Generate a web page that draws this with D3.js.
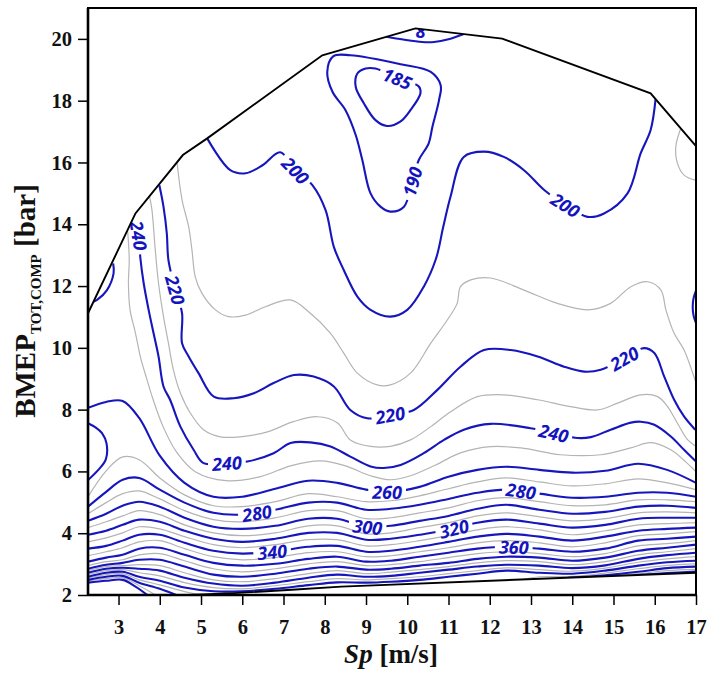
<!DOCTYPE html>
<html lang="en">
<head>
<meta charset="UTF-8">
<title>BMEP contour map</title>
<script src="https://d3js.org/d3.v7.min.js"></script>
<style>
  body { margin: 0; background: #fff; }
  .tick text { font-family: "Liberation Serif", serif; font-weight: bold; font-size: 20.5px; fill: #111; }
  .tick line { stroke: #000; stroke-width: 1.5; }
  .clabel { font-family: "Open Sans", sans-serif; font-weight: bold; font-style: italic; font-size: 18px; fill: #1414be; }
</style>
</head>
<body>
<div id="chart"></div>
<script>
// ---- data (Sp in m/s, BMEP in bar) ----

// columns used for the dense lower band of iso-lines
const bandX = [2.26, 2.7, 3.1, 3.5, 4.0, 4.6, 5.3, 6.0, 6.8, 7.6, 8.3, 9.0, 9.6, 10.3, 11.0, 11.7, 12.4, 13.2, 14.0, 14.8, 15.6, 16.3, 17.0];

const band260 = [8.06, 8.25, 8.28, 7.73, 6.51, 5.63, 5.18, 5.18, 5.44, 5.70, 5.63, 5.41, 5.34, 5.50, 5.83, 6.05, 6.15, 6.05, 5.96, 6.02, 6.25, 6.05, 5.63];
const band270 = [5.18, 6.02, 6.47, 6.38, 5.79, 5.24, 4.89, 4.86, 5.02, 5.28, 5.18, 5.02, 5.05, 5.21, 5.44, 5.66, 5.79, 5.66, 5.53, 5.60, 5.76, 5.63, 5.41];
const band280 = [4.86, 5.34, 5.73, 5.79, 5.41, 4.99, 4.66, 4.60, 4.76, 4.99, 4.99, 4.76, 4.79, 4.92, 5.11, 5.31, 5.41, 5.28, 5.15, 5.18, 5.31, 5.31, 5.18];
const band290 = [4.63, 4.99, 5.28, 5.37, 5.11, 4.73, 4.44, 4.37, 4.50, 4.73, 4.73, 4.47, 4.50, 4.66, 4.82, 5.05, 5.15, 5.02, 4.89, 4.92, 5.08, 5.08, 5.02];
const band300 = [4.40, 4.63, 4.89, 5.02, 4.86, 4.50, 4.21, 4.14, 4.24, 4.47, 4.47, 4.21, 4.24, 4.40, 4.56, 4.79, 4.92, 4.76, 4.63, 4.69, 4.86, 4.89, 4.82];
const band310 = [4.18, 4.37, 4.56, 4.73, 4.60, 4.27, 4.01, 3.92, 4.01, 4.24, 4.24, 3.98, 4.01, 4.18, 4.34, 4.56, 4.66, 4.53, 4.40, 4.47, 4.66, 4.69, 4.66];
const band320 = [3.95, 4.08, 4.27, 4.44, 4.37, 4.08, 3.82, 3.72, 3.82, 4.01, 4.01, 3.79, 3.82, 3.95, 4.11, 4.34, 4.44, 4.31, 4.18, 4.27, 4.47, 4.50, 4.50];
const band330 = [3.72, 3.85, 4.01, 4.21, 4.14, 3.89, 3.63, 3.53, 3.63, 3.79, 3.79, 3.59, 3.63, 3.76, 3.92, 4.11, 4.21, 4.11, 3.95, 4.08, 4.27, 4.31, 4.34];
const band340 = [3.50, 3.59, 3.76, 3.95, 3.95, 3.69, 3.43, 3.34, 3.41, 3.56, 3.59, 3.40, 3.43, 3.56, 3.72, 3.89, 3.98, 3.89, 3.76, 3.89, 4.08, 4.14, 4.18];
const band350 = [3.27, 3.40, 3.53, 3.72, 3.76, 3.50, 3.24, 3.14, 3.21, 3.37, 3.40, 3.24, 3.27, 3.40, 3.53, 3.69, 3.76, 3.69, 3.56, 3.69, 3.92, 3.98, 4.05];
const band360 = [3.08, 3.21, 3.30, 3.50, 3.53, 3.30, 3.04, 2.95, 3.01, 3.17, 3.24, 3.08, 3.11, 3.24, 3.37, 3.50, 3.56, 3.50, 3.40, 3.50, 3.76, 3.82, 3.89];
const band370 = [2.95, 3.08, 3.14, 3.30, 3.34, 3.11, 2.85, 2.75, 2.85, 3.01, 3.08, 2.95, 2.98, 3.08, 3.21, 3.34, 3.40, 3.34, 3.24, 3.34, 3.59, 3.66, 3.76];
const band380 = [2.85, 2.98, 3.04, 3.14, 3.14, 2.92, 2.66, 2.59, 2.69, 2.85, 2.92, 2.82, 2.85, 2.95, 3.04, 3.17, 3.24, 3.21, 3.11, 3.21, 3.43, 3.53, 3.63];
const band390 = [2.79, 2.92, 2.95, 2.98, 2.95, 2.72, 2.49, 2.43, 2.53, 2.69, 2.79, 2.69, 2.74, 2.82, 2.92, 3.04, 3.11, 3.08, 2.98, 3.08, 3.30, 3.40, 3.50];
const band400 = [2.72, 2.85, 2.88, 2.85, 2.79, 2.56, 2.37, 2.30, 2.40, 2.56, 2.66, 2.59, 2.62, 2.72, 2.82, 2.92, 2.98, 2.95, 2.87, 2.96, 3.17, 3.29, 3.37];
const band410 = [2.66, 2.79, 2.82, 2.72, 2.62, 2.40, 2.24, 2.20, 2.30, 2.43, 2.53, 2.49, 2.53, 2.59, 2.69, 2.79, 2.88, 2.82, 2.77, 2.87, 3.06, 3.17, 3.24];
const band420 = [2.59, 2.72, 2.75, 2.59, 2.46, 2.24, 2.12, 2.12, 2.20, 2.32, 2.41, 2.40, 2.43, 2.49, 2.59, 2.69, 2.79, 2.72, 2.69, 2.79, 2.95, 3.06, 3.11];

// lowest levels: pieces that end on the lower envelope
const seg430L = [[2.26, 2.54], [2.7, 2.66], [3.1, 2.69], [3.5, 2.49], [4.0, 2.33], [4.6, 2.11], [5.0, 2.0]];
const seg440L = [[2.26, 2.49], [2.7, 2.59], [3.1, 2.62], [3.5, 2.40], [4.0, 2.20], [4.4, 2.0]];
const seg450L = [[2.26, 2.45], [2.7, 2.53], [3.1, 2.56], [3.5, 2.30], [3.9, 2.0]];
const seg460L = [[2.26, 2.40], [2.7, 2.46], [3.1, 2.49], [3.4, 2.28], [3.7, 2.0]];
const seg430R = [[12.8, 2.50], [13.2, 2.59], [14.0, 2.60], [14.8, 2.71], [15.6, 2.85], [16.3, 2.96], [17.0, 3.01]];
const seg440R = [[13.9, 2.56], [14.8, 2.64], [15.6, 2.75], [16.3, 2.87], [17.0, 2.92]];
const seg450R = [[14.7, 2.60], [15.6, 2.69], [16.3, 2.79], [17.0, 2.83]];
const seg460R = [[15.5, 2.64], [16.3, 2.71], [17.0, 2.76]];

// upper iso-lines, traced point by point
const c180 = [[9.5, 20.07], [9.9, 19.98], [10.36, 19.9], [10.65, 19.9], [11.0, 19.99], [11.37, 20.16]];
const c185 = [[8.99, 19.04], [9.23, 19.04], [9.76, 18.72], [10.28, 18.46], [10.32, 18.24], [10.08, 17.70], [9.83, 17.32], [9.51, 17.18], [9.23, 17.37], [8.95, 17.91], [8.75, 18.45], [8.79, 18.88]];
const c190 = [[8.21, 19.44], [8.62, 19.47], [9.84, 19.18], [10.57, 18.93], [10.81, 18.50], [10.77, 18.02], [10.61, 17.16], [10.52, 16.62], [10.28, 16.08], [10.12, 15.38], [9.92, 14.57], [9.59, 14.41], [9.35, 14.57], [9.11, 15.0], [8.91, 16.08], [8.75, 16.89], [8.50, 17.70], [8.19, 18.28], [8.06, 18.92]];
const c200 = [[5.15, 16.78], [5.71, 15.75], [6.08, 15.65], [6.49, 15.91], [6.92, 16.33], [7.29, 15.75], [7.70, 15.27], [8.02, 14.46], [8.22, 13.27], [8.46, 12.52], [8.79, 11.66], [9.11, 11.23], [9.59, 11.01], [10.0, 11.23], [10.40, 11.98], [10.70, 12.9], [10.87, 13.9], [11.05, 14.9], [11.37, 16.18], [11.86, 16.35], [12.34, 16.18], [12.83, 15.75], [13.32, 15.11], [13.84, 14.62], [14.37, 14.24], [14.77, 14.35], [15.34, 15.0], [15.66, 16.30], [15.90, 17.05], [16.02, 18.05]];
const c210 = [[4.42, 15.99], [4.54, 14.79], [4.70, 13.92], [4.78, 13.17], [4.86, 12.30], [5.02, 11.77], [5.35, 11.23], [5.67, 11.01], [6.08, 11.06], [6.56, 11.33], [7.17, 11.55], [7.65, 11.12], [8.14, 10.47], [8.46, 9.83], [8.79, 9.18], [9.27, 8.80], [9.59, 8.80], [10.08, 9.18], [10.57, 10.15], [10.97, 10.90], [11.21, 11.44], [11.29, 11.98], [11.54, 12.20], [12.02, 12.26], [12.83, 11.87], [13.64, 11.44], [14.37, 11.23], [14.93, 11.44], [15.42, 11.98], [15.83, 12.14], [16.15, 11.87], [16.27, 11.23], [16.47, 10.47], [16.71, 9.93], [17.0, 8.86]];
const c210top = [[16.63, 17.10], [16.51, 16.51], [16.55, 15.97], [16.71, 15.59], [16.98, 15.43]];
const c200blob = [[17, 11.85], [16.94, 11.6], [16.92, 11.33], [16.94, 11.05], [17, 10.8]];
const c220 = [[3.99, 15.26], [4.09, 14.57], [4.17, 13.71], [4.21, 12.84], [4.38, 11.87], [4.54, 11.12], [4.54, 10.15], [4.70, 9.72], [4.94, 9.18], [5.31, 8.42], [5.79, 8.37], [6.28, 8.53], [6.76, 8.86], [7.25, 9.12], [7.73, 9.07], [8.22, 8.75], [8.62, 7.99], [9.03, 7.72], [9.59, 7.83], [10.16, 7.99], [10.73, 8.64], [11.29, 9.39], [11.86, 9.93], [12.51, 9.93], [13.16, 9.72], [13.80, 9.39], [14.29, 9.23], [14.69, 9.29], [15.26, 9.66], [15.74, 9.99], [15.99, 9.83], [16.23, 9.07], [16.47, 8.32], [16.71, 7.78], [16.98, 7.35]];
const c230 = [[3.75, 14.92], [3.81, 14.47], [3.89, 13.18], [3.97, 12.09], [4.09, 11.01], [4.21, 10.15], [4.33, 9.29], [4.50, 8.54], [4.74, 7.89], [5.06, 7.35], [5.47, 7.12], [5.95, 7.12], [6.61, 7.28], [7.24, 7.61], [7.82, 7.77], [8.31, 7.57], [8.62, 7.02], [9.11, 6.81], [9.59, 6.81], [10.08, 7.02], [10.57, 7.45], [11.05, 7.93], [11.70, 8.42], [12.34, 8.48], [13.16, 8.32], [13.96, 8.10], [14.61, 7.99], [15.10, 8.21], [15.66, 8.48], [16.07, 8.42], [16.31, 8.10], [16.55, 7.56], [16.80, 7.02], [17.0, 6.81]];
const c240 = [[3.38, 14.20], [3.49, 13.65], [3.53, 12.90], [3.61, 12.09], [3.73, 11.23], [3.85, 10.47], [3.97, 9.72], [4.09, 8.75], [4.25, 8.32], [4.50, 7.45], [4.82, 6.70], [5.06, 6.27], [5.63, 6.27], [6.12, 6.32], [6.76, 6.59], [7.17, 6.92], [7.65, 6.94], [8.14, 6.81], [8.62, 6.48], [9.11, 6.16], [9.43, 6.11], [9.84, 6.21], [10.40, 6.59], [10.89, 7.02], [11.37, 7.35], [12.02, 7.54], [12.99, 7.40], [13.56, 7.24], [14.13, 7.08], [14.45, 7.11], [14.93, 7.35], [15.42, 7.58], [15.66, 7.61], [15.99, 7.51], [16.39, 7.13], [16.71, 6.70], [17.0, 6.32]];
const c250 = [[3.22, 13.80], [3.26, 12.84], [3.24, 12.10], [3.28, 11.23], [3.41, 10.48], [3.53, 9.71], [3.69, 8.97], [3.84, 8.32], [4.08, 7.45], [4.40, 6.64], [4.86, 5.99], [5.61, 5.70], [6.44, 5.83], [7.17, 6.18], [7.90, 6.34], [8.50, 6.18], [9.11, 5.86], [9.59, 5.73], [10.08, 5.86], [10.69, 6.21], [11.29, 6.60], [12.02, 6.80], [12.75, 6.76], [13.72, 6.54], [14.69, 6.54], [15.42, 6.76], [15.90, 6.93], [16.39, 6.70], [16.75, 6.31], [17.0, 5.99]];
const c260top = [[2.39, 11.49], [2.48, 11.55], [2.72, 11.87], [2.88, 12.41], [2.87, 12.73]];
const c260loop = [[2.26, 7.56], [2.45, 7.42], [2.60, 7.24], [2.71, 6.90], [2.69, 6.38], [2.51, 6.05], [2.26, 5.72]];

// measured operating envelope
const envTop = [[2.26, 11.12], [3.41, 14.35], [4.56, 16.24], [5.15, 16.78], [7.94, 19.47], [10.2, 20.34], [12.3, 20.01], [15.9, 18.24], [17, 16.53]];
const envBottom = [[4.7, 2.0], [5.8, 2.06], [7.2, 2.17], [8.4, 2.27], [13.7, 2.55], [17, 2.72]];

const xTicks = d3.range(3, 18);
const yTicks = d3.range(2, 21, 2);

// inline labels: which line, and roughly where on it
const contourLabels = [
  {text: "185", line: "c185", at: [9.76, 18.72]},
  {text: "190", line: "c190", at: [10.12, 15.38]},
  {text: "200", line: "c200", at: [7.29, 15.75]},
  {text: "200", line: "c200", at: [13.84, 14.62]},
  {text: "220", line: "c220", at: [4.38, 11.87]},
  {text: "220", line: "c220", at: [9.59, 7.83]},
  {text: "220", line: "c220", at: [15.26, 9.66]},
  {text: "240", line: "c240", at: [3.49, 13.65]},
  {text: "240", line: "c240", at: [5.63, 6.27]},
  {text: "240", line: "c240", at: [13.56, 7.24]},
  {text: "260", line: "b260", at: [9.51, 5.35]},
  {text: "280", line: "b280", at: [6.37, 4.62]},
  {text: "280", line: "b280", at: [12.75, 5.35]},
  {text: "300", line: "b300", at: [9.03, 4.20]},
  {text: "320", line: "b320", at: [11.13, 4.11]},
  {text: "340", line: "b340", at: [6.72, 3.41]},
  {text: "360", line: "b360", at: [12.59, 3.52]}
];

// ---- chart ----
const margin = {top: 8, right: 14, bottom: 84, left: 88};
const width = 710 - margin.left - margin.right;
const height = 679 - margin.top - margin.bottom;

const x = d3.scaleLinear().domain([2.26, 17]).range([0, width]);
const y = d3.scaleLinear().domain([2, 21]).range([height, 0]);

const blue = "#1616bc";
const grey = "#b4b4b4";

const bands = [
  [260, band260], [270, band270], [280, band280], [290, band290], [300, band300],
  [310, band310], [320, band320], [330, band330], [340, band340], [350, band350],
  [360, band360], [370, band370], [380, band380], [390, band390], [400, band400],
  [410, band410], [420, band420]
];

const lines = [
  {id: "c180", level: 180, pts: c180},
  {id: "c185", level: 185, pts: c185, closed: true},
  {id: "c190", level: 190, pts: c190, closed: true},
  {id: "c200", level: 200, pts: c200},
  {id: "c200blob", level: 200, pts: c200blob},
  {id: "c210", level: 210, pts: c210},
  {id: "c210top", level: 210, pts: c210top},
  {id: "c220", level: 220, pts: c220},
  {id: "c230", level: 230, pts: c230},
  {id: "c240", level: 240, pts: c240},
  {id: "c250", level: 250, pts: c250},
  {id: "c260top", level: 260, pts: c260top},
  {id: "c260loop", level: 260, pts: c260loop},
  ...bands.map(([lev, ys]) => ({id: "b" + lev, level: lev, pts: bandX.map((xv, i) => [xv, ys[i]])})),
  {id: "s430L", level: 430, pts: seg430L}, {id: "s440L", level: 440, pts: seg440L},
  {id: "s450L", level: 450, pts: seg450L}, {id: "s460L", level: 460, pts: seg460L},
  {id: "s430R", level: 430, pts: seg430R}, {id: "s440R", level: 440, pts: seg440R},
  {id: "s450R", level: 450, pts: seg450R}, {id: "s460R", level: 460, pts: seg460R}
];

const isBlue = lev => lev <= 200 || lev % 20 === 0;

const svg = d3.select("#chart").append("svg")
  .attr("width", width + margin.left + margin.right)
  .attr("height", height + margin.top + margin.bottom);
const defs = svg.append("defs");
const g = svg.append("g").attr("transform", `translate(${margin.left},${margin.top})`);

// clip to the envelope
const clipPoly = [[2.26, 2.0], ...envTop, ...envBottom.slice().reverse()];
defs.append("clipPath").attr("id", "env")
  .append("path")
  .attr("d", d3.line().x(d => x(d[0])).y(d => y(d[1]))(clipPoly) + "Z");

const openLine = d3.line().x(d => x(d[0])).y(d => y(d[1])).curve(d3.curveCatmullRom.alpha(0.5));
const closedLine = d3.line().x(d => x(d[0])).y(d => y(d[1])).curve(d3.curveCatmullRomClosed.alpha(0.5));

const gLines = g.append("g").attr("clip-path", "url(#env)");
const gLabels = g.append("g").attr("clip-path", "url(#env)");

// grey first, blue on top
const ordered = lines.slice().sort((a, b) => isBlue(a.level) - isBlue(b.level));
const pathById = {};
ordered.forEach(l => {
  const p = gLines.append("path")
    .attr("d", (l.closed ? closedLine : openLine)(l.pts))
    .attr("fill", "none")
    .attr("stroke", isBlue(l.level) ? blue : grey)
    .attr("stroke-width", isBlue(l.level) ? 2.1 : 1.2)
    .attr("stroke-linejoin", "round");
  pathById[l.id] = p;
});

// place labels on their lines, following the local direction
const cutouts = {};
contourLabels.forEach(lb => {
  const node = pathById[lb.line].node();
  const total = node.getTotalLength();
  const tx = x(lb.at[0]), ty = y(lb.at[1]);
  let best = 0, bestD = Infinity;
  for (let s = 0; s <= total; s += 1) {
    const p = node.getPointAtLength(s);
    const d = (p.x - tx) ** 2 + (p.y - ty) ** 2;
    if (d < bestD) { bestD = d; best = s; }
  }
  const p0 = node.getPointAtLength(Math.max(0, best - 6));
  const p1 = node.getPointAtLength(Math.min(total, best + 6));
  const pc = node.getPointAtLength(best);
  let ang = Math.atan2(p1.y - p0.y, p1.x - p0.x) * 180 / Math.PI;
  if (ang > 91) ang -= 180;
  if (ang < -91) ang += 180;
  const t = gLabels.append("text")
    .attr("class", "clabel")
    .attr("text-anchor", "middle")
    .attr("dominant-baseline", "central")
    .attr("transform", `translate(${pc.x},${pc.y}) rotate(${ang})`)
    .text(lb.text);
  const w = t.node().getComputedTextLength() + 8;
  (cutouts[lb.line] = cutouts[lb.line] || []).push({cx: pc.x, cy: pc.y, ang, w});
});

// the clipped "180" label at the top, only its middle shows
gLabels.append("text")
  .attr("class", "clabel")
  .attr("text-anchor", "middle")
  .attr("dominant-baseline", "central")
  .attr("x", x(10.32)).attr("y", y(20.25))
  .text("8");

// gaps in the lines behind labels
Object.keys(cutouts).forEach(id => {
  const m = defs.append("mask").attr("id", "m-" + id)
    .attr("maskUnits", "userSpaceOnUse")
    .attr("x", -50).attr("y", -50).attr("width", width + 100).attr("height", height + 100);
  m.append("rect").attr("x", -50).attr("y", -50).attr("width", width + 100).attr("height", height + 100).attr("fill", "#fff");
  cutouts[id].forEach(c => {
    m.append("rect")
      .attr("x", -c.w / 2).attr("y", -8).attr("width", c.w).attr("height", 16)
      .attr("fill", "#000")
      .attr("transform", `translate(${c.cx},${c.cy}) rotate(${c.ang})`);
  });
  pathById[id].attr("mask", `url(#m-${id})`);
});

// envelope outline
const envLine = d3.line().x(d => x(d[0])).y(d => y(d[1]));
g.append("path").attr("d", envLine(envTop)).attr("fill", "none").attr("stroke", "#000").attr("stroke-width", 1.9);
g.append("path").attr("d", envLine(envBottom)).attr("fill", "none").attr("stroke", "#000").attr("stroke-width", 1.9);

// frame
g.append("rect").attr("x", 0).attr("y", 0).attr("width", width).attr("height", height)
  .attr("fill", "none").attr("stroke", "#000").attr("stroke-width", 2);
g.append("line").attr("x1", 0).attr("x2", 0).attr("y1", 0).attr("y2", height).attr("stroke", "#000").attr("stroke-width", 2.6);
g.append("line").attr("x1", 0).attr("x2", width).attr("y1", height).attr("y2", height).attr("stroke", "#000").attr("stroke-width", 2.4);

// axes
const gx = g.append("g").attr("transform", `translate(0,${height})`)
  .call(d3.axisBottom(x).tickValues(xTicks).tickSize(10).tickPadding(14).tickSizeOuter(0));
const gy = g.append("g")
  .call(d3.axisLeft(y).tickValues(yTicks).tickSize(10).tickPadding(6).tickSizeOuter(0));
gx.select(".domain").remove();
gy.select(".domain").remove();
[gx, gy].forEach(a => a.attr("font-family", null).attr("font-size", null));

// axis titles
const yTitle = svg.append("text")
  .attr("transform", `translate(35,${margin.top + 293}) rotate(-90)`)
  .attr("text-anchor", "middle")
  .attr("font-family", "Liberation Serif, serif")
  .attr("font-weight", "bold")
  .attr("font-size", 29)
  .attr("fill", "#111");
yTitle.append("tspan").text("BMEP");
yTitle.append("tspan").attr("font-size", 15).attr("dy", 6).text("TOT,COMP");
yTitle.append("tspan").attr("dy", -6).text(" [bar]");

const xTitle = svg.append("text")
  .attr("x", 391).attr("y", 663)
  .attr("text-anchor", "middle")
  .attr("font-family", "Liberation Serif, serif")
  .attr("font-weight", "bold")
  .attr("font-size", 27)
  .attr("fill", "#111");
xTitle.append("tspan").attr("font-style", "italic").text("Sp");
xTitle.append("tspan").text(" [m/s]");
</script>
</body>
</html>
